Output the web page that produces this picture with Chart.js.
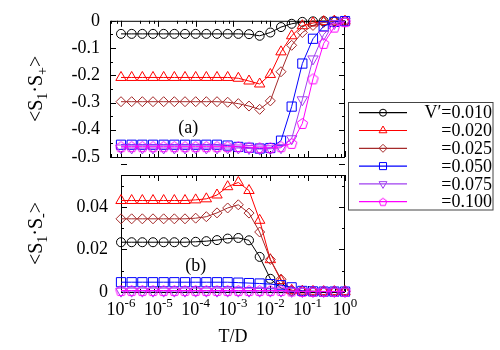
<!DOCTYPE html>
<html lang="en">
<head>
  <meta charset="UTF-8" />
  <title>&lt;S1·S+&gt; and &lt;S1·S-&gt; vs T/D</title>
  <script src="https://cdn.jsdelivr.net/npm/chart.js"></script>
  <style>
    body { margin: 0; background: #fff; }
    .wrap { position: relative; width: 500px; height: 350px; }
    .wrap canvas { position: absolute; left: 0; top: 0; }
  </style>
</head>
<body>
  <div class="wrap">
    <canvas id="topChart" width="500" height="350"></canvas>
    <canvas id="botChart" width="500" height="350"></canvas>
  </div>

  <script>
    // temperature grid T/D (log spaced)
    const temps = [1e-6, 1.931e-6, 3.728e-6, 7.197e-6, 1.389e-5, 2.683e-5, 5.179e-5,
                   1e-4, 1.931e-4, 3.728e-4, 7.197e-4, 1.389e-3, 2.683e-3, 5.179e-3,
                   1e-2, 1.931e-2, 3.728e-2, 7.197e-2, 0.1389, 0.2683, 0.5179, 1];

    const legendLabels = ['V′=0.010', '=0.020', '=0.025', '=0.050', '=0.075', '=0.100'];
    const colors = ['#000000', '#ff0000', '#a52a2a', '#0000ff', '#a040f0', '#ff00ff'];

    // panel (a): <S1.S+>
    const plus010 = [-0.048, -0.048, -0.048, -0.048, -0.048, -0.048, -0.048, -0.048, -0.048, -0.048, -0.048,
                     -0.048, -0.049, -0.055, -0.043, -0.023, -0.011, -0.004, -0.002, -0.001, -0.001, -0.001];
    const plus020 = [-0.208, -0.208, -0.208, -0.208, -0.208, -0.208, -0.208, -0.208, -0.208, -0.208, -0.208,
                     -0.211, -0.221, -0.232, -0.197, -0.114, -0.055, -0.018, -0.008, -0.003, -0.001, -0.001];
    const plus025 = [-0.297, -0.297, -0.297, -0.297, -0.297, -0.297, -0.297, -0.297, -0.297, -0.297, -0.299,
                     -0.304, -0.313, -0.325, -0.294, -0.187, -0.090, -0.043, -0.017, -0.006, -0.002, -0.001];
    const plus050 = [-0.455, -0.455, -0.455, -0.455, -0.455, -0.455, -0.455, -0.455, -0.455, -0.455, -0.458,
                     -0.463, -0.466, -0.469, -0.467, -0.440, -0.315, -0.157, -0.066, -0.020, -0.004, -0.001];
    const plus075 = [-0.467, -0.467, -0.467, -0.467, -0.467, -0.467, -0.467, -0.467, -0.467, -0.467, -0.467,
                     -0.467, -0.469, -0.471, -0.470, -0.466, -0.433, -0.290, -0.140, -0.050, -0.010, -0.002];
    const plus100 = [-0.462, -0.462, -0.462, -0.462, -0.462, -0.462, -0.462, -0.462, -0.462, -0.462, -0.462,
                     -0.462, -0.464, -0.466, -0.466, -0.462, -0.450, -0.377, -0.213, -0.083, -0.023, -0.003];

    // panel (b): <S1.S->
    const minus010 = [0.0234, 0.0234, 0.0234, 0.0234, 0.0234, 0.0234, 0.0234, 0.0236, 0.0239, 0.0244, 0.0251,
                      0.0254, 0.0243, 0.0165, 0.0062, 0.0018, 0.0005, 0.0003, 0.0002, 0.0002, 0.0002, 0.0002];
    const minus020 = [0.0430, 0.0430, 0.0430, 0.0430, 0.0430, 0.0430, 0.0430, 0.0433, 0.0438, 0.0456, 0.0495,
                      0.0515, 0.0477, 0.0337, 0.0152, 0.0054, 0.0008, 0.0004, 0.0003, 0.0002, 0.0002, 0.0002];
    const minus025 = [0.0344, 0.0344, 0.0344, 0.0344, 0.0344, 0.0344, 0.0344, 0.0347, 0.0354, 0.0372, 0.0395,
                      0.0410, 0.0371, 0.0282, 0.0153, 0.0060, 0.0008, 0.0004, 0.0003, 0.0002, 0.0002, 0.0002];
    const minus050 = [0.0046, 0.0046, 0.0046, 0.0046, 0.0046, 0.0046, 0.0046, 0.0046, 0.0046, 0.0046, 0.0046,
                      0.0044, 0.0042, 0.0040, 0.0037, 0.0032, 0.0022, 0.0005, 0.0003, 0.0002, 0.0002, 0.0002];
    const minus075 = [0.0004, 0.0004, 0.0004, 0.0004, 0.0004, 0.0004, 0.0004, 0.0004, 0.0004, 0.0004, 0.0004,
                      0.0004, 0.0004, 0.0004, 0.0004, 0.0004, 0.0003, 0.0002, 0.0002, 0.0002, 0.0002, 0.0002];
    const minus100 = [0.0007, 0.0007, 0.0007, 0.0007, 0.0007, 0.0007, 0.0007, 0.0007, 0.0007, 0.0007, 0.0007,
                      0.0007, 0.0007, 0.0007, 0.0007, 0.0007, 0.0005, 0.0003, 0.0003, 0.0003, 0.0003, 0.0003];

    const xDecades = [1e-7, 1e-6, 1e-5, 1e-4, 1e-3, 1e-2, 1e-1, 1];
    const xExponents = ['-7', '-6', '-5', '-4', '-3', '-2', '-1', '0'];
    const yTicksTop = [0, -0.1, -0.2, -0.3, -0.4, -0.5];
    const yTicksBot = [0, 0.02, 0.04];

    const FONT = "'Liberation Serif', 'DejaVu Serif', serif";

    function pentagon(color, r) {
      const s = Math.ceil(r * 2 + 4);
      const c = document.createElement('canvas');
      c.width = s; c.height = s;
      const g = c.getContext('2d');
      g.strokeStyle = color; g.lineWidth = 1;
      g.beginPath();
      for (let i = 0; i < 5; i++) {
        const a = -Math.PI / 2 + i * 2 * Math.PI / 5;
        const px = s / 2 + r * Math.cos(a), py = s / 2 + 0.5 + r * Math.sin(a);
        i ? g.lineTo(px, py) : g.moveTo(px, py);
      }
      g.closePath(); g.stroke();
      return c;
    }

    const markers = [
      { style: 'circle', r: 4.5, rot: 0 },
      { style: 'triangle', r: 6, rot: 0 },
      { style: 'rectRot', r: 5, rot: 0 },
      { style: 'rect', r: 6.5, rot: 0 },
      { style: 'triangle', r: 6, rot: 180 },
      { style: pentagon(colors[5], 5.5), r: 6, rot: 0 }
    ];
    const legendMarkers = [
      { style: 'circle', r: 3.5, rot: 0 },
      { style: 'triangle', r: 4.5, rot: 0 },
      { style: 'rectRot', r: 4, rot: 0 },
      { style: 'rect', r: 5, rot: 0 },
      { style: 'triangle', r: 4.5, rot: 180 },
      { style: pentagon(colors[5], 4), r: 4, rot: 0 }
    ];

    function makeSets(list) {
      return list.map((vals, i) => ({
        data: temps.map((t, k) => ({ x: t, y: vals[k] })),
        showLine: true,
        borderColor: colors[i],
        backgroundColor: 'rgba(0,0,0,0)',
        borderWidth: 1,
        pointStyle: markers[i].style,
        pointRadius: markers[i].r,
        pointRotation: markers[i].rot,
        pointBorderWidth: 1,
        pointBorderColor: colors[i],
        pointBackgroundColor: 'rgba(0,0,0,0)',
        clip: false,
        order: list.length - i
      }));
    }

    // text with sub/superscript parts: [text, 0 normal | 1 sub | -1 sup]
    function richText(ctx, parts, cx, cy, rotate, bigPx, smallPx) {
      const big = bigPx + 'px ' + FONT, small = smallPx + 'px ' + FONT;
      let total = 0;
      parts.forEach(p => { ctx.font = p[1] ? small : big; total += ctx.measureText(p[0]).width; });
      ctx.save();
      ctx.translate(cx, cy);
      if (rotate) ctx.rotate(-Math.PI / 2);
      ctx.textBaseline = 'alphabetic';
      ctx.textAlign = 'left';
      let x = -total / 2;
      parts.forEach(p => {
        ctx.font = p[1] ? small : big;
        const dy = p[1] === 1 ? bigPx * 0.25 : (p[1] === -1 ? -bigPx * 0.45 : 0);
        ctx.fillText(p[0], x, bigPx * 0.35 + dy);
        x += ctx.measureText(p[0]).width;
      });
      ctx.restore();
    }

    const gpPlugin = {
      id: 'gp',
      beforeDatasetsDraw(chart, args, o) {
        const { ctx, chartArea: a, scales: { x, y } } = chart;
        ctx.save();
        ctx.strokeStyle = '#000';
        ctx.lineWidth = 1;
        ctx.strokeRect(a.left + 0.5, a.top + 0.5, a.right - a.left - 1, a.bottom - a.top);
        ctx.beginPath();
        const xt = (v, len) => {
          if (v < x.min || v > x.max) return;
          const px = Math.round(x.getPixelForValue(v)) + 0.5;
          ctx.moveTo(px, a.bottom); ctx.lineTo(px, a.bottom - len);
          ctx.moveTo(px, a.top); ctx.lineTo(px, a.top + len);
        };
        xDecades.forEach(d => {
          xt(d, 6);
          [3.25, 5.5, 7.75].forEach(m => xt(d * m, 3));
        });
        const n = Math.round((y.max - y.min) / o.yMinor);
        for (let i = 0; i <= n; i++) {
          const v = y.min + i * o.yMinor;
          const major = Math.abs(v / o.yMajor - Math.round(v / o.yMajor)) < 1e-6;
          const len = major ? 6 : 3;
          const py = Math.round(y.getPixelForValue(v)) + 0.5;
          ctx.moveTo(a.left, py); ctx.lineTo(a.left + len, py);
          ctx.moveTo(a.right, py); ctx.lineTo(a.right - len, py);
        }
        ctx.stroke();
        ctx.restore();
      },
      afterDraw(chart, args, o) {
        const { ctx, chartArea: a, scales: { x, y } } = chart;
        ctx.save();
        ctx.fillStyle = '#000';
        // y axis title
        richText(ctx, o.yTitle, 35, (a.top + a.bottom) / 2, true, 20, 14);
        // panel label
        ctx.font = '18px ' + FONT;
        ctx.textAlign = 'center';
        ctx.textBaseline = 'middle';
        ctx.fillText(o.panel.text, x.getPixelForValue(o.panel.x), y.getPixelForValue(o.panel.y));
        if (o.xLabels) {
          xDecades.forEach((d, i) => {
            if (d < x.min || d > x.max) return;
            richText(ctx, [['10', 0], [xExponents[i], -1]], x.getPixelForValue(d), 309, false, 18, 13);
          });
          ctx.font = '18px ' + FONT;
          ctx.textAlign = 'center';
          ctx.textBaseline = 'alphabetic';
          ctx.fillText('T/D', (a.left + a.right) / 2, 342);
        }
        if (o.legend) {
          ctx.strokeStyle = '#444';
          ctx.lineWidth = 1;
          ctx.strokeRect(348.5, 102.5, 144.5, 107.5);
          legendLabels.forEach((lab, i) => {
            const ly = 112.7 + i * 17.8;
            ctx.strokeStyle = colors[i];
            ctx.lineWidth = 1.2;
            ctx.beginPath();
            ctx.moveTo(359, ly); ctx.lineTo(407, ly);
            ctx.stroke();
            ctx.lineWidth = 1;
            ctx.fillStyle = 'rgba(0,0,0,0)';
            if (Chart.helpers && Chart.helpers.drawPoint) {
              const m = legendMarkers[i];
              Chart.helpers.drawPoint(ctx, { pointStyle: m.style, radius: m.r, rotation: m.rot, borderWidth: 1 }, 383, ly);
            }
            ctx.fillStyle = '#000';
            ctx.font = '18px ' + FONT;
            ctx.textAlign = 'right';
            ctx.textBaseline = 'middle';
            ctx.fillText(lab, 492, ly + 1);
          });
        }
        ctx.restore();
      }
    };

    function baseOptions(pad, yWidth, yMin, yMax, yTicks, xMin, labelPad, gp) {
      return {
        responsive: false,
        animation: false,
        events: [],
        layout: { padding: pad },
        plugins: { legend: { display: false }, tooltip: { enabled: false }, gp: gp },
        scales: {
          x: { type: 'logarithmic', min: xMin, max: 1, display: false },
          y: {
            type: 'linear', min: yMin, max: yMax,
            grid: { display: false, drawTicks: false },
            border: { display: false },
            ticks: {
              color: '#000', padding: labelPad,
              font: { family: FONT, size: 18 },
              callback: v => String(+v.toFixed(3))
            },
            afterBuildTicks: s => { s.ticks = yTicks.map(v => ({ value: v })); },
            afterFit: s => { s.width = yWidth; }
          }
        }
      };
    }

    new Chart(document.getElementById('topChart'), {
      type: 'scatter',
      data: { datasets: makeSets([plus010, plus020, plus025, plus050, plus075, plus100]) },
      options: baseOptions({ left: 0, top: 10, right: 155, bottom: 193 }, 110, -0.5, 0, yTicksTop, 5.07e-7, 10, {
        yMinor: 0.05, yMajor: 0.1,
        yTitle: [['<S', 0], ['1', 1], ['·S', 0], ['+', 1], ['>', 0]],
        panel: { text: '(a)', x: 6.3e-5, y: -0.395 },
        xLabels: false, legend: false
      }),
      plugins: [gpPlugin]
    });

    new Chart(document.getElementById('botChart'), {
      type: 'scatter',
      data: { datasets: makeSets([minus010, minus020, minus025, minus050, minus075, minus100]) },
      options: baseOptions({ left: 0, top: 175, right: 155, bottom: 58 }, 121, 0, 0.055, yTicksBot, 1e-6, 13, {
        yMinor: 0.01, yMajor: 0.02,
        yTitle: [['<S', 0], ['1', 1], ['·S', 0], ['-', 1], ['>', 0]],
        panel: { text: '(b)', x: 1e-4, y: 0.012 },
        xLabels: true, legend: true
      }),
      plugins: [gpPlugin]
    });
  </script>
</body>
</html>
